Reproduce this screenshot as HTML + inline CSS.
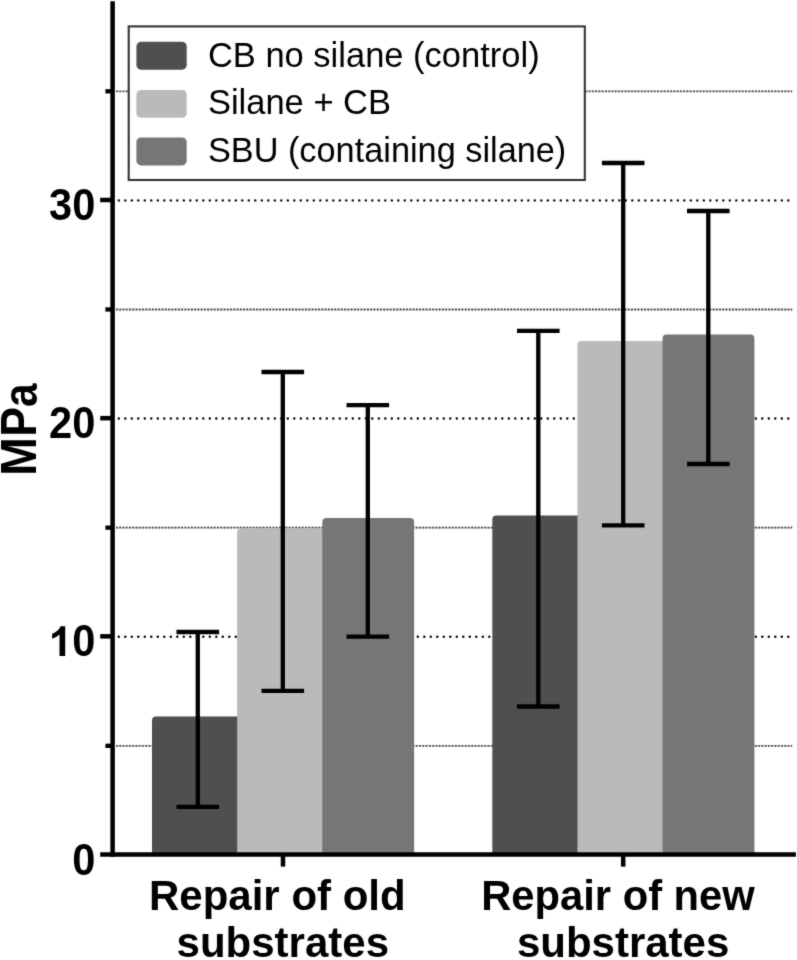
<!DOCTYPE html>
<html><head><meta charset="utf-8"><title>Chart</title>
<style>
html,body{margin:0;padding:0;background:#fff;}
body{width:797px;height:960px;overflow:hidden;font-family:"Liberation Sans",sans-serif;}
svg{display:block;}
text{font-family:"Liberation Sans",sans-serif;}
</style></head><body>
<svg width="797" height="960" viewBox="0 0 797 960">
<defs><filter id="bl" color-interpolation-filters="sRGB" filterUnits="userSpaceOnUse" x="-20" y="-20" width="837" height="1000"><feConvolveMatrix order="3" kernelMatrix="1 3 1 3 24 3 1 3 1" divisor="40" edgeMode="duplicate" preserveAlpha="true"/></filter></defs>
<rect x="-20" y="-20" width="837" height="1000" fill="#ffffff"/>
<g filter="url(#bl)">
<rect x="-20" y="-20" width="837" height="1000" fill="#ffffff"/>

<line x1="118.8" x2="789.5" y1="636.73" y2="636.73" stroke="#000" stroke-width="2.4" stroke-linecap="round" stroke-dasharray="0.01 6.49"/>
<line x1="118.8" x2="789.5" y1="418.56" y2="418.56" stroke="#000" stroke-width="2.4" stroke-linecap="round" stroke-dasharray="0.01 6.49"/>
<line x1="118.8" x2="789.5" y1="200.39" y2="200.39" stroke="#000" stroke-width="2.4" stroke-linecap="round" stroke-dasharray="0.01 6.49"/>
<line x1="116" x2="792.2" y1="745.81" y2="745.81" stroke="#cfcfcf" stroke-width="1.6"/>
<line x1="116" x2="792.2" y1="745.81" y2="745.81" stroke="#484848" stroke-width="1.8" stroke-dasharray="1.8 1.46"/>
<line x1="116" x2="792.2" y1="527.64" y2="527.64" stroke="#cfcfcf" stroke-width="1.6"/>
<line x1="116" x2="792.2" y1="527.64" y2="527.64" stroke="#484848" stroke-width="1.8" stroke-dasharray="1.8 1.46"/>
<line x1="116" x2="792.2" y1="309.48" y2="309.48" stroke="#cfcfcf" stroke-width="1.6"/>
<line x1="116" x2="792.2" y1="309.48" y2="309.48" stroke="#484848" stroke-width="1.8" stroke-dasharray="1.8 1.46"/>
<line x1="116" x2="792.2" y1="91.30" y2="91.30" stroke="#cfcfcf" stroke-width="1.6"/>
<line x1="116" x2="792.2" y1="91.30" y2="91.30" stroke="#484848" stroke-width="1.8" stroke-dasharray="1.8 1.46"/>
<path d="M152.00 854.5 L152.00 720.4 Q152.00 716.4 156.00 716.4 L239.80 716.4 Q243.80 716.4 243.80 720.4 L243.80 854.5 Z" fill="#4f4f4f"/>
<path d="M237.15 854.5 L237.15 532.4 Q237.15 528.4 241.15 528.4 L324.95 528.4 Q328.95 528.4 328.95 532.4 L328.95 854.5 Z" fill="#bababa"/>
<path d="M322.30 854.5 L322.30 521.9 Q322.30 517.9 326.30 517.9 L410.10 517.9 Q414.10 517.9 414.10 521.9 L414.10 854.5 Z" fill="#767676"/>
<path d="M492.30 854.5 L492.30 519.4 Q492.30 515.4 496.30 515.4 L580.10 515.4 Q584.10 515.4 584.10 519.4 L584.10 854.5 Z" fill="#4f4f4f"/>
<path d="M577.45 854.5 L577.45 345.0 Q577.45 341.0 581.45 341.0 L665.25 341.0 Q669.25 341.0 669.25 345.0 L669.25 854.5 Z" fill="#bababa"/>
<path d="M662.60 854.5 L662.60 338.6 Q662.60 334.6 666.60 334.6 L750.40 334.6 Q754.40 334.6 754.40 338.6 L754.40 854.5 Z" fill="#767676"/>
<g stroke="#000" stroke-width="4.3" fill="none"><line x1="197.8" x2="197.8" y1="632.0" y2="806.9"/><line x1="176.5" x2="219.1" y1="632.0" y2="632.0"/><line x1="176.5" x2="219.1" y1="806.9" y2="806.9"/></g>
<g stroke="#000" stroke-width="4.3" fill="none"><line x1="282.8" x2="282.8" y1="372.0" y2="690.9"/><line x1="261.5" x2="304.1" y1="372.0" y2="372.0"/><line x1="261.5" x2="304.1" y1="690.9" y2="690.9"/></g>
<g stroke="#000" stroke-width="4.3" fill="none"><line x1="367.8" x2="367.8" y1="405.2" y2="636.6"/><line x1="346.5" x2="389.1" y1="405.2" y2="405.2"/><line x1="346.5" x2="389.1" y1="636.6" y2="636.6"/></g>
<g stroke="#000" stroke-width="4.3" fill="none"><line x1="538.3" x2="538.3" y1="330.9" y2="706.5"/><line x1="517.0" x2="559.6" y1="330.9" y2="330.9"/><line x1="517.0" x2="559.6" y1="706.5" y2="706.5"/></g>
<g stroke="#000" stroke-width="4.3" fill="none"><line x1="623.2" x2="623.2" y1="163" y2="525.3"/><line x1="601.9" x2="644.5" y1="163" y2="163"/><line x1="601.9" x2="644.5" y1="525.3" y2="525.3"/></g>
<g stroke="#000" stroke-width="4.3" fill="none"><line x1="708.3" x2="708.3" y1="211" y2="464"/><line x1="687.0" x2="729.6" y1="211" y2="211"/><line x1="687.0" x2="729.6" y1="464" y2="464"/></g>
<g stroke="#000" stroke-width="4.5" fill="none">
<line x1="112.6" x2="112.6" y1="1.2" y2="856.75"/>
<line x1="100.2" x2="795.9" y1="854.5" y2="854.5"/>
<line x1="100.2" x2="112.6" y1="636.33" y2="636.33"/>
<line x1="100.2" x2="112.6" y1="418.16" y2="418.16"/>
<line x1="100.2" x2="112.6" y1="199.99" y2="199.99"/>
<line x1="105.4" x2="112.6" y1="745.81" y2="745.81" stroke-width="4.3"/>
<line x1="105.4" x2="112.6" y1="527.64" y2="527.64" stroke-width="4.3"/>
<line x1="105.4" x2="112.6" y1="309.48" y2="309.48" stroke-width="4.3"/>
<line x1="105.4" x2="112.6" y1="91.30" y2="91.30" stroke-width="4.3"/>
<line x1="283.0" x2="283.0" y1="854.5" y2="866.6"/>
<line x1="623.2" x2="623.2" y1="854.5" y2="866.6"/>
</g>
<rect x="128.7" y="26.4" width="456.1" height="153.6" fill="#fff" stroke="#333" stroke-width="2.1"/>
<rect x="136.4" y="41.8" width="50.3" height="27.9" rx="4.6" ry="4.6" fill="#4f4f4f"/>
<rect x="136.4" y="89.9" width="50.3" height="27.9" rx="4.6" ry="4.6" fill="#bababa"/>
<rect x="136.4" y="137.5" width="50.3" height="27.9" rx="4.6" ry="4.6" fill="#767676"/>
<text x="207.9" y="66.8" font-size="34.5" fill="#000">CB no silane (control)</text>
<text x="207.9" y="114" font-size="34.5" fill="#000">Silane + CB</text>
<text x="207.9" y="161.5" font-size="34.3" fill="#000">SBU (containing silane)</text>
<text transform="translate(95.3,874.60) scale(0.952,1)" font-size="43.7" font-weight="bold" text-anchor="end" fill="#000">0</text>
<text transform="translate(95.3,656.43) scale(0.952,1)" font-size="43.7" font-weight="bold" text-anchor="end" fill="#000">0</text>
<text transform="translate(95.3,438.26) scale(0.952,1)" font-size="43.7" font-weight="bold" text-anchor="end" fill="#000">20</text>
<text transform="translate(95.3,220.09) scale(0.952,1)" font-size="43.7" font-weight="bold" text-anchor="end" fill="#000">30</text>
<path transform="translate(48.85,656.03) scale(0.0203)" d="M806 0L525 0L525 -1059Q371 -915 162 -846L162 -1101Q272 -1137 401 -1237.5Q530 -1338 578 -1472L806 -1472Z" fill="#000"/>
<text transform="translate(35.5,475.7) rotate(-90) scale(0.937,1)" font-size="49.5" font-weight="bold" fill="#000">M</text>
<text transform="translate(35.5,436.7) rotate(-90) scale(0.9,1)" font-size="49.5" font-weight="bold" fill="#000">P</text>
<text transform="translate(36.7,406.9) rotate(-90) scale(0.875,1)" font-size="48.5" font-weight="bold" fill="#000">a</text>
<text x="149.0" y="909.6" font-size="42" font-weight="bold" fill="#000">Repair of old</text>
<text transform="translate(481.2,909.6) scale(0.9935,1)" font-size="42" font-weight="bold" fill="#000">Repair of new</text>
<text x="282.8" y="957.3" font-size="42" font-weight="bold" text-anchor="middle" fill="#000">substrates</text>
<text x="623.1" y="957.3" font-size="42" font-weight="bold" text-anchor="middle" fill="#000">substrates</text>
</g></svg></body></html>
